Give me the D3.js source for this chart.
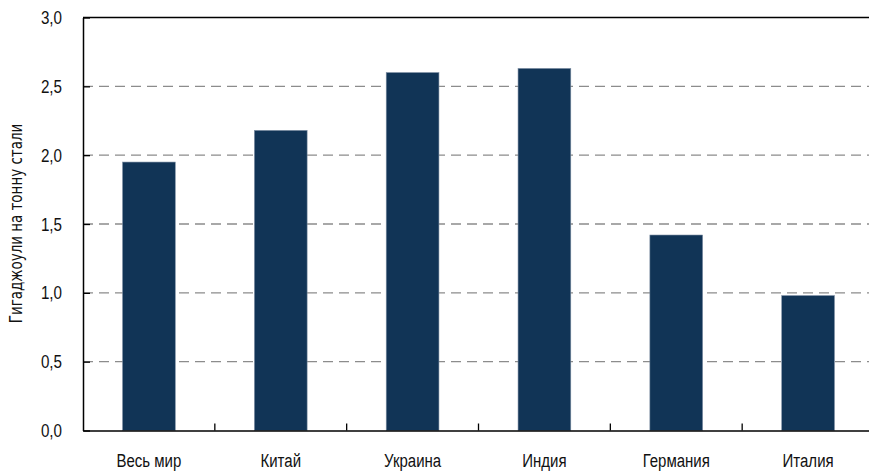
<!DOCTYPE html>
<html>
<head>
<meta charset="utf-8">
<script src="https://cdn.jsdelivr.net/npm/d3@7"></script>
<style>
  body { margin: 0; background: #fff; }
  svg { display: block; font-family: "Liberation Sans Narrow", "DejaVu Sans Condensed", sans-serif; }
</style>
</head>
<body>
<div id="chart"></div>
<script>
const categories = ["Весь мир", "Китай", "Украина", "Индия", "Германия", "Италия"];
const values = [1.95, 2.18, 2.60, 2.63, 1.42, 0.98];
const yTicks = [0, 0.5, 1.0, 1.5, 2.0, 2.5, 3.0];
const yTitle = "Гигаджоули на тонну стали";

const width = 869;
const height = 471;
const plotLeft = 83, plotTop = 17.5, plotBottom = 430.5, plotRight = 874;

const svg = d3.select("#chart")
  .append("svg")
  .attr("width", width)
  .attr("height", height);

const x = d3.scaleBand()
  .domain(categories)
  .range([plotLeft, plotRight])
  .paddingInner(0.6)
  .paddingOuter(0.3);

const xTicks = d3.scaleBand().domain(categories).range([plotLeft, plotRight]);

const y = d3.scaleLinear().domain([0, 3]).range([plotBottom, plotTop]);

// gridlines
svg.append("g")
  .selectAll("line")
  .data(yTicks.filter(d => d > 0 && d < 3))
  .enter()
  .append("line")
  .attr("x1", plotLeft)
  .attr("x2", width)
  .attr("y1", d => y(d))
  .attr("y2", d => y(d))
  .attr("stroke", "#8c8c8c")
  .attr("stroke-width", 1.3)
  .attr("stroke-dasharray", "10,6");

// bars
svg.append("g")
  .selectAll("rect")
  .data(values)
  .enter()
  .append("rect")
  .attr("x", (d, i) => x(categories[i]))
  .attr("width", x.bandwidth())
  .attr("y", d => y(d))
  .attr("height", d => y(0) - y(d))
  .attr("fill", "#113456")
  .attr("stroke", "#7d8ea3")
  .attr("stroke-width", 0.6);

// top border
svg.append("line")
  .attr("x1", plotLeft).attr("x2", width)
  .attr("y1", plotTop).attr("y2", plotTop)
  .attr("stroke", "#000").attr("stroke-width", 1.5);

// y axis
const yAxis = d3.axisLeft(y)
  .tickValues(yTicks)
  .tickFormat(d => d3.format(".1f")(d).replace(".", ","))
  .tickSizeInner(-7)
  .tickSizeOuter(0);

const gy = svg.append("g")
  .attr("transform", `translate(${plotLeft},0)`)
  .call(yAxis);
gy.select(".domain").attr("stroke-width", 1.5);
gy.selectAll(".tick line").attr("stroke-width", 1.3);
gy.selectAll("text")
  .attr("x", 0)
  .attr("transform", "translate(-21,0) scale(0.8,1)")
  .attr("font-size", 19)
  .attr("fill", "#111");

// x axis
const xAxis = d3.axisBottom(xTicks)
  .tickSizeInner(0)
  .tickSizeOuter(0)
  .tickPadding(23);

const gx = svg.append("g")
  .attr("transform", `translate(0,${plotBottom})`)
  .call(xAxis);
gx.select(".domain").attr("stroke-width", 1.5);
gx.selectAll("text")
  .attr("font-size", 19)
  .attr("transform", "scale(0.79,1)")
  .attr("fill", "#111");

// category separator ticks
svg.append("g")
  .selectAll("line")
  .data(categories.slice(1))
  .enter()
  .append("line")
  .attr("x1", d => xTicks(d))
  .attr("x2", d => xTicks(d))
  .attr("y1", plotBottom)
  .attr("y2", plotBottom - 7)
  .attr("stroke", "#000")
  .attr("stroke-width", 1.3);

// y title
svg.append("text")
  .attr("transform", "translate(22,223.5) rotate(-90) scale(0.88,1)")
  .attr("text-anchor", "middle")
  .attr("font-size", 17)
  .attr("fill", "#111")
  .text(yTitle);
</script>
</body>
</html>
